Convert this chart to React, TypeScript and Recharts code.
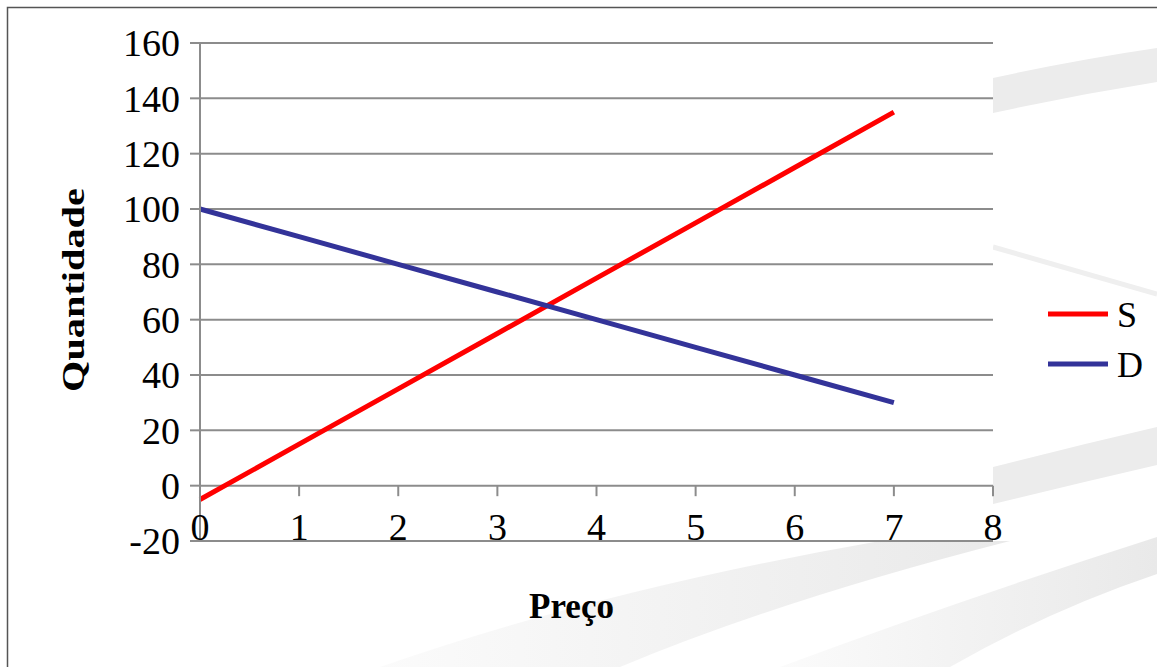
import { CartesianGrid, Label, Line, LineChart, ReferenceLine, XAxis, YAxis } from 'recharts'

const W = 1157
const H = 667

// preço vs. quantidade for the supply (S) and demand (D) curves
const prices = [0, 1, 2, 3, 4, 5, 6, 7]
const supply = [-5, 15, 35, 55, 75, 95, 115, 135]
const demand = [100, 90, 80, 70, 60, 50, 40, 30]

const xTicks = [0, 1, 2, 3, 4, 5, 6, 7, 8]
const yTicks = [-20, 0, 20, 40, 60, 80, 100, 120, 140, 160]

const SERIES = [
  { key: 'S', color: '#ff0000' },
  { key: 'D', color: '#333399' },
]

const GRID = '#8c8c8c'
const FONT = '"Liberation Serif", "Times New Roman", serif'

const rows = prices.map((p, i) => ({ preco: p, S: supply[i], D: demand[i] }))

function XTick({ x, y, payload }: any) {
  return (
    <text x={x} y={y - 1} textAnchor="middle" fontSize={38} fill="#000" fontFamily={FONT}>
      {payload.value}
    </text>
  )
}

// light swooshes behind the chart
function Backdrop() {
  return (
    <svg width={W} height={H} style={{ position: 'absolute', left: 0, top: 0 }}>
      <defs>
        <linearGradient id="swoosh" x1="0" x2="1" y1="0" y2="0">
          <stop offset="0" stopColor="#fbfbfb" />
          <stop offset="1" stopColor="#e9e9e9" />
        </linearGradient>
      </defs>
      <path d="M 993 78 Q 1075 60 1157 48 L 1157 82 Q 1075 95 993 113 Z" fill="#ececec" />
      <path d="M 993 247 L 1157 294" stroke="#efefef" strokeWidth={5} />
      <path d="M 993 467 Q 1075 446 1157 427 L 1157 465 Q 1075 484 993 504 Z" fill="#ececec" />
      <path d="M 1157 537 Q 960 600 780 667 L 950 667 Q 1050 610 1157 574 Z" fill="url(#swoosh)" />
      <path d="M 380 667 Q 600 590 880 541 L 1010 541 Q 780 600 620 667 Z" fill="url(#swoosh)" />
      <path d="M 7.5 667 L 7.5 7.5 L 1157 7.5" fill="none" stroke="#555" strokeWidth={1.5} />
    </svg>
  )
}

function SeriesKey() {
  return (
    <svg width={117} height={100} style={{ position: 'absolute', left: 1040, top: 290 }}>
      {SERIES.map((s, i) => (
        <g key={s.key}>
          <line x1={8} x2={68} y1={24 + i * 50} y2={24 + i * 50} stroke={s.color} strokeWidth={5} />
          <text x={77} y={37 + i * 50} fontSize={36} fontFamily={FONT} fill="#000">
            {s.key}
          </text>
        </g>
      ))}
    </svg>
  )
}

export default function App() {
  return (
    <div style={{ position: 'absolute', left: 0, top: 0, width: W, height: H, overflow: 'hidden', background: '#fff' }}>
      <Backdrop />
      <div style={{ position: 'absolute', left: 0, top: 0 }}>
        <LineChart width={W} height={H} data={rows} margin={{ top: 43, right: 164, bottom: 66, left: 120 }} style={{ fontFamily: FONT }}>
          <CartesianGrid vertical={false} stroke={GRID} strokeWidth={2} fill="#fff" fillOpacity={1} />
          <XAxis
            dataKey="preco"
            type="number"
            domain={[0, 8]}
            ticks={xTicks}
            height={60}
            axisLine={false}
            tickLine={false}
            tickSize={0}
            tickMargin={0}
            tick={<XTick />}
          >
            <Label
              content={({ viewBox }: any) => (
                <text x={viewBox.x + viewBox.width / 2 - 25} y={viewBox.y + 77} textAnchor="middle" fontSize={35} fontWeight="bold" fontFamily={FONT} fill="#000">
                  Preço
                </text>
              )}
            />
          </XAxis>
          <YAxis
            type="number"
            domain={[-20, 160]}
            ticks={yTicks}
            width={80}
            axisLine={{ stroke: GRID, strokeWidth: 2 }}
            tickLine={{ stroke: GRID, strokeWidth: 2 }}
            tickSize={10}
            tickMargin={10}
            tick={{ fontSize: 38, fill: '#000', fontFamily: FONT }}
          >
            <Label
              content={({ viewBox }: any) => (
                <text
                  transform={`translate(${viewBox.x - 36}, ${viewBox.y + viewBox.height / 2 - 2}) rotate(-90) scale(1.26, 1)`}
                  textAnchor="middle"
                  fontSize={32}
                  fontWeight="bold"
                  fontFamily={FONT}
                  fill="#000"
                >
                  Quantidade
                </text>
              )}
            />
          </YAxis>
          {xTicks.map((t) => (
            <ReferenceLine key={t} segment={[{ x: t, y: 0 }, { x: t, y: -3.8 }]} stroke={GRID} strokeWidth={2} />
          ))}
          {SERIES.map((s) => (
            <Line key={s.key} dataKey={s.key} stroke={s.color} strokeWidth={5} dot={false} activeDot={false} isAnimationActive={false} />
          ))}
        </LineChart>
      </div>
      <SeriesKey />
    </div>
  )
}
